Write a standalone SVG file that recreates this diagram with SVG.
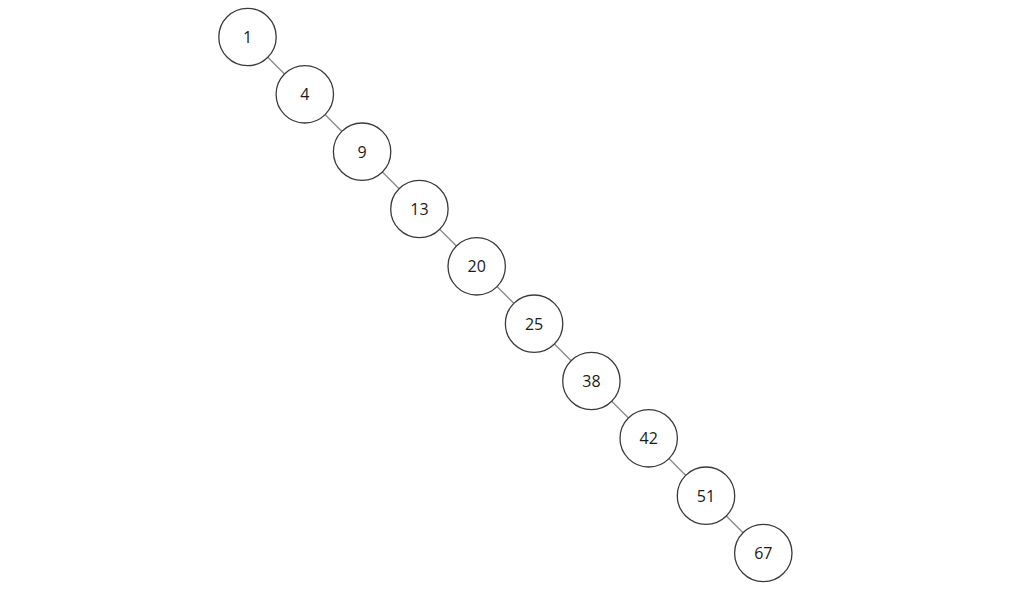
<svg xmlns="http://www.w3.org/2000/svg" width="1024" height="593" viewBox="0 0 1024 593">
<style>
.n circle{fill:#fff;stroke:#3a3a3a;stroke-width:1.3}
.n text{font-family:"Open Sans","Liberation Sans",sans-serif;font-size:16px;fill:#1a1a1a;text-anchor:middle;dominant-baseline:central}
.e line{stroke:#8c8c8c;stroke-width:1.4}
</style>
<rect width="1024" height="593" fill="#fff"/>
<g id="connectors" class="e">
<line x1="247.5" y1="37" x2="304.8" y2="94.3"/>
<line x1="304.8" y1="94.3" x2="362.1" y2="151.7"/>
<line x1="362.1" y1="151.7" x2="419.4" y2="209"/>
<line x1="419.4" y1="209" x2="476.7" y2="266.3"/>
<line x1="476.7" y1="266.3" x2="534.1" y2="323.7"/>
<line x1="534.1" y1="323.7" x2="591.4" y2="381"/>
<line x1="591.4" y1="381" x2="648.7" y2="438.3"/>
<line x1="648.7" y1="438.3" x2="706" y2="495.7"/>
<line x1="706" y1="495.7" x2="763.3" y2="553"/>
</g>
<g id="n1" class="n"><circle cx="247.5" cy="37" r="28.7"/><text x="247.5" y="37">1</text></g>
<g id="n4" class="n"><circle cx="304.8" cy="94.3" r="28.7"/><text x="304.8" y="94.3">4</text></g>
<g id="n9" class="n"><circle cx="362.1" cy="151.7" r="28.7"/><text x="362.1" y="151.7">9</text></g>
<g id="n13" class="n"><circle cx="419.4" cy="209" r="28.7"/><text x="419.4" y="209">13</text></g>
<g id="n20" class="n"><circle cx="476.7" cy="266.3" r="28.7"/><text x="476.7" y="266.3">20</text></g>
<g id="n25" class="n"><circle cx="534.1" cy="323.7" r="28.7"/><text x="534.1" y="323.7">25</text></g>
<g id="n38" class="n"><circle cx="591.4" cy="381" r="28.7"/><text x="591.4" y="381">38</text></g>
<g id="n42" class="n"><circle cx="648.7" cy="438.3" r="28.7"/><text x="648.7" y="438.3">42</text></g>
<g id="n51" class="n"><circle cx="706" cy="495.7" r="28.7"/><text x="706" y="495.7">51</text></g>
<g id="n67" class="n"><circle cx="763.3" cy="553" r="28.7"/><text x="763.3" y="553">67</text></g>
</svg>
